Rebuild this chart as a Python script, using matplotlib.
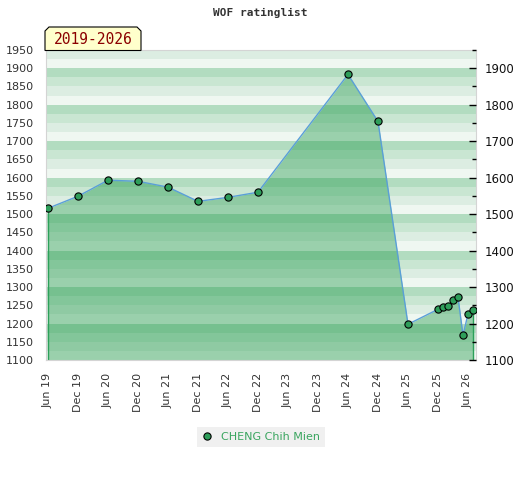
import matplotlib
matplotlib.use("Agg")
import matplotlib.pyplot as plt
from matplotlib.patches import Polygon
from matplotlib.ticker import MultipleLocator
import numpy as np

#data
dates = ["2019-06", "2019-12", "2020-06", "2020-12", "2021-06", "2021-12",
         "2022-06", "2022-12", "2024-06", "2024-12", "2025-06", "2025-12",
         "2026-01", "2026-02", "2026-03", "2026-04", "2026-05", "2026-06",
         "2026-07"]
ratings = [1516, 1549, 1593, 1590, 1574, 1535, 1546, 1560, 1883, 1754,
           1198, 1239, 1245, 1247, 1265, 1272, 1168, 1226, 1236]
tick_labels = ["Jun 19", "Dec 19", "Jun 20", "Dec 20", "Jun 21", "Dec 21",
               "Jun 22", "Dec 22", "Jun 23", "Dec 23", "Jun 24", "Dec 24",
               "Jun 25", "Dec 25", "Jun 26"]
player = "CHENG Chih Mien"
period = "2019-2026"
title = "WOF ratinglist"

#months since first date
def month_index(d, start="2019-06"):
    y, m = map(int, d.split("-"))
    y0, m0 = map(int, start.split("-"))
    return (y - y0) * 12 + (m - m0)

x = np.array([month_index(d) for d in dates])
y = np.array(ratings)
ymin, ymax = 1100, 1950

fig = plt.figure(figsize=(5.2, 4.8), dpi=100)
ax = fig.add_axes([46/520, 1 - 360/480, 430/520, 310/480])

#striped background
band_colors = {0: "#eff7f1", 25: "#dcede2", 50: "#c9e6d2", 75: "#b2dcc0"}
for lo in range(ymin, ymax, 25):
    ax.axhspan(lo, lo + 25, color=band_colors[lo % 100], lw=0, zorder=0)

ax.fill_between(x, y, ymin, color="#1c9646", alpha=0.4, lw=0, zorder=1)
ax.vlines([x[0], x[-1]], ymin, [y[0], y[-1]], color="#2ca05a", lw=1, zorder=2)
ax.plot(x, y, color="#5a9fd8", lw=1, zorder=3)
ax.plot(x, y, ls="none", marker="o", ms=5.2, mfc="#2e9e5a", mec="black",
        mew=0.8, zorder=4, label=player)

ax.set_xlim(x[0] - 0.4, x[-1] + 0.6)
ax.set_ylim(ymin, ymax)
ax.set_xticks(np.arange(len(tick_labels)) * 6)
ax.set_xticklabels(tick_labels, rotation=90)
ax.set_yticks(np.arange(ymin, ymax + 1, 50))
ax.tick_params(axis="both", length=0, labelsize=8, labelcolor="#333333")
ax.tick_params(axis="y", pad=9)
ax.tick_params(axis="x", pad=9)
for s in ax.spines.values():
    s.set_color("#d4d4d4")

#right axis
ax2 = ax.twinx()
ax2.set_ylim(ymin, ymax)
ax2.set_yticks(np.arange(ymin, 1901, 100))
ax2.yaxis.set_minor_locator(MultipleLocator(50))
ax2.tick_params(axis="y", which="major", direction="in", length=5,
                width=1, labelsize=8.5, labelcolor="#111111", pad=6)
ax2.tick_params(axis="y", which="minor", direction="in", length=3, width=1)
for s in ax2.spines.values():
    s.set_visible(False)

fig.text(0.5, 1 - 13/480, title, ha="center", va="center",
         family="DejaVu Sans Mono", fontweight="bold", fontsize=8,
         color="#333333")

#period label box with cut corners
l, r, b, t, c = 45, 141, 50.5, 27, 4
pts = [(l, b), (l, t + c), (l + c, t), (r - c, t), (r, t + c), (r, b)]
fig.patches.append(Polygon([(px / 520, 1 - py / 480) for px, py in pts],
                           closed=True, transform=fig.transFigure,
                           facecolor="#ffffcc", edgecolor="black", lw=0.8))
fig.text((l + r) / 2 / 520, 1 - 39 / 480, period, ha="center", va="center",
         family="DejaVu Sans Mono", fontsize=10.5, color="#8b0000")

leg = fig.legend(loc="center", bbox_to_anchor=(261/520, 1 - 436.5/480),
                 frameon=True, fancybox=False, facecolor="#f0f0f0",
                 edgecolor="none", fontsize=8, handlelength=0.8,
                 handletextpad=0.9, borderpad=0.45, framealpha=1)
for txt in leg.get_texts():
    txt.set_color("#3aa55f")

fig.savefig("out.png", dpi=100)
